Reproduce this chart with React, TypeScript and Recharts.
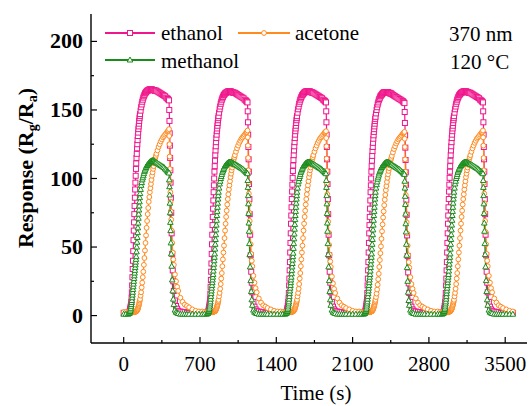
import React from 'react';
import { LineChart, Line, XAxis, YAxis } from 'recharts';

const cycleStarts = [0, 720, 1440, 2160, 2880];
const relTime = [0,20,40,50,
  55,57.5,60,62.5,65,67.5,70,72.5,75,77.5,
  80,82.5,85,87.5,90,92.5,95,97.5,100,102.5,
  105,107.5,110,112.5,115,117.5,120,122.5,125,127.5,
  130,132.5,135,137.5,140,142.5,145,147.5,150,
  155,160,165,170,175,180,185,190,195,200,
  205,210,215,220,225,230,235,240,245,250,
  255,260,265,270,275,280,285,290,295,300,
  310,320,330,340,350,360,370,380,390,400,
  405,410,416,418,420,422,424,426,428,430,
  433,436,440,445,450,455,460,470,480,490,
  500,520,540,560,580,600,630,660,690];

const ethanolC1 = [2,2,2,2,
  3,4,5,6,7,8.5,10,13,17,22,
  28,34,40,47,55,62,68,74,80,86,
  92,97,102,107,111,115,118,122,125,128,
  131,133.5,136,138,140,142,144,145.5,147,
  149.5,152,154,156,157.5,159,160,161,162,162.5,
  163,163.5,164,164,164.5,164.5,165,165,165,165,
  165,165,164.5,164.5,164.5,164.5,164,164,164,164,
  163.5,163,162.5,162,161.5,161,160.5,160,159,158.5,
  158,157.5,157,150,142,133,124,115,106,97,
  86,75,60,45,33,25,18,11,7,5,
  3.5,3,2.5,2.5,2,2,2,2,2];
const ethanolC2 = [2,2,2,2,
  2.5,3.5,4.5,5.5,6.5,8,9.5,12,16,21,
  26,32,38,45,52,59,66,72,78,84,
  90,95,100,105,109,113,117,120.5,123.5,126.5,
  129.5,132,134.5,136.5,138.5,140.5,142.5,144,145.5,
  148,150.5,152.5,154.5,156,157.5,158.5,159.5,160.5,161,
  161.5,162,162.5,162.5,163,163,163.5,163.5,163.5,163.5,
  163.5,163.5,163.5,163,163,163,162.5,162.5,162.5,162.5,
  162,161.5,161,160.5,160,159.5,159,158.5,157.5,157,
  156.5,156,155.5,149,141,132,123,114,105,96,
  85,74,59,44,32,24,17,10,6.5,4.5,
  3.5,3,2.5,2.5,2,2,2,2,2];
const ethanolC3 = [2,2,2,2,
  2.5,3.5,4.5,5.5,7,8.5,10,12.5,16.5,22,
  27,33,39,46,53,60,67,73,79,85,
  90.5,95.5,100.5,105.5,109.5,113.5,117,120.5,123.5,126.5,
  129.5,132,134.5,136.5,138.5,140.5,142.5,144,145.5,
  148,150.5,152.5,154.5,156,157.5,158.5,159.5,160.5,161,
  161.5,162,162.5,163,163,163.5,163.5,163.5,163.5,163.5,
  163.5,163.5,163.5,163.5,163,163,163,162.5,162.5,162.5,
  162,161.5,161,160.5,160,159.5,159,158.5,157.5,157,
  156.5,156,155.5,149,141,132,123,114,105,96,
  85,74,59,44,32,24,17,10,6.5,4.5,
  3.5,3,2.5,2.5,2,2,2,2,2];
const ethanolC4 = [2,2,2,2,
  2.5,3.5,4.5,5.5,7,8.5,10,12.5,16.5,22,
  27,33,39,46,53,60,66,72,78,84,
  90,95,100,105,109,113,116.5,120,123,126,
  129,131.5,134,136,138,140,142,143.5,145,
  147.5,150,152,154,155.5,157,158,159,160,160.5,
  161,161.5,162,162.5,162.5,163,163,163,163,163,
  163,163,163,162.5,162.5,162.5,162,162,162,161.5,
  161,160.5,160,159.5,159,158.5,158,157.5,157,156.5,
  156,155.5,155,148.5,140.5,131.5,122.5,113.5,104.5,95.5,
  84.5,73.5,58.5,43.5,31.5,23.5,16.5,10,6.5,4.5,
  3.5,3,2.5,2.5,2,2,2,2,2];
const ethanolC5 = [2,2,2,2,
  2.5,3.5,4.5,5.5,7,8.5,10,12.5,16.5,22,
  27,33,39,46,53,60,67,73,79,85,
  90.5,95.5,100.5,105,109,113,117,120.5,123.5,126.5,
  129.5,132,134.5,136.5,138.5,140.5,142.5,144,145.5,
  148,150.5,152.5,154.5,156,157.5,158.5,159.5,160.5,161,
  161.5,162,162.5,162.5,163,163,163.5,163.5,163.5,163.5,
  163.5,163.5,163.5,163,163,163,162.5,162.5,162.5,162.5,
  162,161.5,161,160.5,160,159.5,159,158.5,157.5,157,
  156.5,156,155.5,149,141,132,123,114,105,96,
  85,74,59,44,32,24,17,10,6.5,4.5,
  3.5,3,2.5,2.5,2,2,2,2,2];

const acetoneC1 = [2.5,2.5,2.5,2.5,
  2.5,2.5,2.5,2.5,2.5,2.5,2.5,2.5,2.5,2.5,
  2.5,2.5,2.5,2.5,2.5,2.5,2.5,2.5,2.5,2.8,
  2.8,3,3,3,3,3.3,3.5,3.8,4,4.5,
  5,5.7,6.5,7.2,8,9,10,11,12,
  14.5,17,20.5,24,28,32,37,42,47.5,53,
  58.5,64,69,74,78.5,83,86.5,90,93,96,
  99,102,104.5,107,109,111,113,115,116.5,118,
  120.5,123,125,127,128.5,130,131,132,133,134,
  134.5,135,136,131,125,116,107,98,90,83,
  76,70,62,53,46,41,37,30,25,21,
  18,13,10,8,7,6,4.5,3.5,3];
const acetoneC2 = [3,2.5,2.5,2.5,
  2.5,2.5,2.5,2.5,2.5,2.5,2.5,2.5,2.5,2.5,
  2.5,2.5,2.5,2.5,2.5,2.5,2.5,2.5,2.5,2.8,
  2.8,3,3,3,3,3.3,3.5,3.8,4,4.5,
  5,5.6,6.3,7,7.7,8.5,9.5,10.5,11.5,
  14,16.5,19.5,23,27,31,36,41,46,51,
  56.5,62,67,72,76.5,81,85,88.5,92,95,
  98,101,103.5,106,108,110,112,114,115.5,117,
  119.5,122,124,126,127.5,129,130,131,132,133,
  133.5,134,135,130,124,115,106,97,89,82,
  75,69,61,52,45,40,36,29,24,20,
  17,12.5,9.5,7.5,6.5,5.5,4.5,3.5,3];
const acetoneC3 = [3,2.5,2.5,2.5,
  2.5,2.5,2.5,2.5,2.5,2.5,2.5,2.5,2.5,2.5,
  2.5,2.5,2.5,2.5,2.5,2.5,2.5,2.5,2.5,2.8,
  2.8,3,3,3,3,3.3,3.5,3.8,4,4.5,
  5,5.6,6.3,7,7.7,8.5,9.5,10.5,11.5,
  14,16.5,19.5,23,27,31,36,41,46,51,
  56.5,62,67,72,76.5,81,85,88.5,92,95,
  98,101,103.5,106,108,110,112,114,115.5,117,
  119.5,122,124,126,127.5,129,130,131,132,133,
  133.5,134,134.5,129.5,123.5,114.5,105.5,96.5,88.5,81.5,
  74.5,68.5,60.5,51.5,44.5,39.5,35.5,28.5,23.5,19.5,
  16.5,12.5,9.5,7.5,6.5,5.5,4.5,3.5,3];
const acetoneC4 = [3,2.5,2.5,2.5,
  2.5,2.5,2.5,2.5,2.5,2.5,2.5,2.5,2.5,2.5,
  2.5,2.5,2.5,2.5,2.5,2.5,2.5,2.5,2.5,2.8,
  2.8,3,3,3,3,3.3,3.5,3.8,4,4.5,
  5,5.6,6.3,7,7.7,8.5,9.5,10.5,11.5,
  13.5,16,19,22.5,26.5,30.5,35.5,40.5,45.5,50.5,
  56,61.5,66.5,71.5,76,80.5,84.5,88,91.5,94.5,
  97.5,100.5,103,105.5,107.5,109.5,111.5,113.5,115,116.5,
  119,121.5,123.5,125.5,127,128.5,129.5,130.5,131.5,132.5,
  133,133.5,134,129,123,114,105,96,88,81,
  74,68,60,51,44,39,35,28,23,19.5,
  16.5,12.5,9.5,7.5,6.5,5.5,4.5,3.5,3];
const acetoneC5 = [3,2.5,2.5,2.5,
  2.5,2.5,2.5,2.5,2.5,2.5,2.5,2.5,2.5,2.5,
  2.5,2.5,2.5,2.5,2.5,2.5,2.5,2.5,2.5,2.8,
  2.8,3,3,3,3,3.3,3.5,3.8,4,4.5,
  5,5.6,6.3,7,7.7,8.5,9.5,10.5,11.5,
  14,16.5,19.5,23,27,31,36,41,46,51,
  56.5,62,67,72,76.5,81,85,88.5,92,95,
  98,101,103.5,106,108,110,112,114,115.5,117,
  119.5,122,124,126,127.5,129,130,131,132,133,
  133.5,134,135,130,124,115,106,97,89,82,
  75,69,61,52,45,40,36,29,24,20,
  17,12.5,9.5,7.5,6.5,5.5,4.5,3.5,3];

const methanolC1 = [1,1,1,1.5,
  2,2.5,3,4,5,6.5,8,9.5,11,13,
  15,17,19,21,23,25,27,29,31,33,
  35,37,39,41,43,46.5,50,53.5,57,60.5,
  64,67.5,71,74,77,80,83,86,89,
  92,95,97,99,100.5,102,103.5,105,106,107,
  108,109,109.5,110,110.5,111,111.5,112,112.3,112.5,
  112.8,113,113,113,113,112.5,112.3,112,111.8,111.5,
  111,110.5,110,109.5,109,108.5,108,107,106.3,105.5,
  105,104.5,104,99,94,88,82,75,68,62,
  53,45,36,26,18,12,8,4,2.5,2,
  1.5,1,1,1,1,1,1,1,1];
const methanolC2 = [1,1,1,1.5,
  2,2.5,3,3.5,4.5,5.5,7,8.5,10,12,
  14,16,18,20,22,24,26,28,30,32.5,
  35,37.5,40,42.5,45,48.5,52,55.5,59,62.5,
  66,69.5,73,76,79,82,85,87.5,90,
  93,96,98,100,101.5,103,104.5,105.5,106.5,107.5,
  108.5,109,109.5,110,110.5,111,111.3,111.5,111.8,112,
  112,112,112,111.8,111.5,111.3,111,110.8,110.5,110.3,
  110,109.5,109,108.5,108,107.5,107,106.3,105.5,105,
  104.5,104,103.5,98.5,93.5,87.5,81.5,74.5,67.5,61.5,
  52.5,44.5,35.5,25.5,17.5,11.5,7.5,4,2.5,2,
  1.5,1,1,1,1,1,1,1,1];
const methanolC3 = [1,1,1,1.5,
  2,2.5,3,3.5,4.5,5.5,7,8.5,10,12,
  14,16,18,20,22,24,26,28,30.5,33,
  35.5,38,40.5,43,45.5,49,52.5,56,59.5,63,
  66.5,70,73,76,79,82,85,87.5,90,
  93,96,98,100,101.5,103,104.5,105.5,106.5,107.5,
  108.5,109,109.5,110,110.5,111,111.3,111.5,111.8,112,
  112,112,112,111.8,111.5,111.3,111,110.8,110.5,110.3,
  110,109.5,109,108.5,108,107.5,107,106.3,105.5,105,
  104.5,104,103.5,98.5,93.5,87.5,81.5,74.5,67.5,61.5,
  52.5,44.5,35.5,25.5,17.5,11.5,7.5,4,2.5,2,
  1.5,1,1,1,1,1,1,1,1];
const methanolC4 = [1,1,1,1.5,
  2,2.5,3,3.5,4.5,5.5,7,8.5,10,12,
  14,16,18,20,22,24,26,28,30,32.5,
  35,37.5,40,42.5,45,48.5,52,55.5,59,62.5,
  66,69.5,73,76,79,82,85,87.5,90,
  93,95.5,97.5,99.5,101,102.5,104,105,106,107,
  108,108.5,109,109.5,110,110.5,111,111.3,111.6,111.8,
  112,112,111.8,111.5,111.3,111,110.8,110.5,110.3,110,
  109.5,109,108.5,108,107.5,107,106.5,105.8,105,104.5,
  104,103.5,103,98,93,87,81,74,67,61,
  52,44,35,25,17,11,7.5,4,2.5,2,
  1.5,1,1,1,1,1,1,1,1];
const methanolC5 = [1,1,1,1.5,
  2,2.5,3,3.5,4.5,5.5,7,8.5,10,12,
  14,16,18,20,22,24,26,28,30,32.5,
  35,37.5,40,42.5,45,48.5,52,55.5,59,62.5,
  66,69.5,73,76,79,82,85,87.5,90,
  93,96,98,100,101.5,103,104.5,105.5,106.5,107.5,
  108.5,109,109.5,110,110.5,111,111.3,111.5,111.8,112,
  112,112,112,111.8,111.5,111.3,111,110.8,110.5,110.3,
  110,109.5,109,108.5,108,107.5,107,106.3,105.5,105,
  104.5,104,103.5,98.5,93.5,87.5,81.5,74.5,67.5,61.5,
  52.5,44.5,35.5,25.5,17.5,11.5,7.5,4,2.5,2,
  1.5,1,1,1,1,1,1,1,1];

const ethanolCycles = [ethanolC1, ethanolC2, ethanolC3, ethanolC4, ethanolC5];
const acetoneCycles = [acetoneC1, acetoneC2, acetoneC3, acetoneC4, acetoneC5];
const methanolCycles = [methanolC1, methanolC2, methanolC3, methanolC4, methanolC5];

const xTicks = [0, 350, 700, 1050, 1400, 1750, 2100, 2450, 2800, 3150, 3500];
const yTicks = [0, 25, 50, 75, 100, 125, 150, 175, 200];

const data: { t: number; ethanol: number; acetone: number; methanol: number }[] = [];
cycleStarts.forEach((start, k) => {
  relTime.forEach((rt, i) => {
    data.push({
      t: start + rt,
      ethanol: ethanolCycles[k][i],
      acetone: acetoneCycles[k][i],
      methanol: methanolCycles[k][i],
    });
  });
});

const PINK = '#F0168C';
const ORANGE = '#FF8A1E';
const GREEN = '#1A8C1A';
const FONT = '"Liberation Serif", "Times New Roman", Times, serif';
const TXT = { fontFamily: FONT };

const SquareDot = (props: any) => {
  const { cx, cy, index } = props;
  if (cx == null || cy == null) return <g key={`e${index}`} />;
  return <rect key={`e${index}`} x={cx - 2.5} y={cy - 2.5} width={5} height={5} fill="#fff" stroke={PINK} strokeWidth={1} />;
};
const CircleDot = (props: any) => {
  const { cx, cy, index } = props;
  if (cx == null || cy == null) return <g key={`a${index}`} />;
  return <circle key={`a${index}`} cx={cx} cy={cy} r={2.4} fill="#fff" stroke={ORANGE} strokeWidth={1} />;
};
const TriDot = (props: any) => {
  const { cx, cy, index } = props;
  if (cx == null || cy == null) return <g key={`m${index}`} />;
  return (
    <polygon
      key={`m${index}`}
      points={`${cx},${cy - 3} ${cx - 2.8},${cy + 2} ${cx + 2.8},${cy + 2}`}
      fill="#fff"
      stroke={GREEN}
      strokeWidth={1}
    />
  );
};

const XTick = (props: any) => {
  const { x, y, payload } = props;
  const major = payload.value % 700 === 0;
  return (
    <g>
      <line x1={x} x2={x} y1={y} y2={y - (major ? 6 : 3)} stroke="#000" strokeWidth={1.2} />
      {major && (
        <text x={x} y={y + 28} textAnchor="middle" fontSize={21} style={TXT} fill="#000">
          {payload.value}
        </text>
      )}
    </g>
  );
};

const YTick = (props: any) => {
  const { x, y, payload } = props;
  const major = payload.value % 50 === 0;
  return (
    <g>
      <line x1={x} x2={x + (major ? 6 : 3)} y1={y} y2={y} stroke="#000" strokeWidth={1.2} />
      {major && (
        <text x={x - 8} y={y + 7} textAnchor="end" fontSize={22} fontWeight="bold" style={TXT} fill="#000">
          {payload.value}
        </text>
      )}
    </g>
  );
};

export default function App() {
  return (
    <div style={{ position: 'absolute', left: 0, top: 0, width: 530, height: 406, background: '#fff', fontFamily: FONT }}>
      <LineChart width={530} height={406} data={data} margin={{ top: 14, right: 3, bottom: 0, left: 0 }}>
        <XAxis
          xAxisId="b"
          dataKey="t"
          type="number"
          domain={[-300, 3700]}
          ticks={xTicks}
          allowDataOverflow
          height={63}
          tickSize={0}
          tickMargin={0}
          tickLine={false}
          tick={<XTick />}
          axisLine={{ stroke: '#000', strokeWidth: 1.4 }}
          interval={0}
        />
        <XAxis
          xAxisId="top"
          orientation="top"
          type="number"
          domain={[-300, 3700]}
          height={0}
          tick={false}
          tickLine={false}
          axisLine={{ stroke: '#000', strokeWidth: 1.4 }}
        />
        <YAxis
          yAxisId="l"
          type="number"
          domain={[-20, 220]}
          ticks={yTicks}
          allowDataOverflow
          width={91}
          tickSize={0}
          tickMargin={0}
          tickLine={false}
          tick={<YTick />}
          axisLine={{ stroke: '#000', strokeWidth: 1.4 }}
          interval={0}
        />
        <YAxis
          yAxisId="r"
          orientation="right"
          type="number"
          domain={[-20, 220]}
          width={0}
          tick={false}
          tickLine={false}
          axisLine={{ stroke: '#000', strokeWidth: 1.4 }}
        />
        <Line xAxisId="b" yAxisId="l" type="linear" dataKey="ethanol" stroke={PINK} strokeWidth={1.2} dot={SquareDot} isAnimationActive={false} />
        <Line xAxisId="b" yAxisId="l" type="linear" dataKey="acetone" stroke={ORANGE} strokeWidth={1.2} dot={CircleDot} isAnimationActive={false} />
        <Line xAxisId="b" yAxisId="l" type="linear" dataKey="methanol" stroke={GREEN} strokeWidth={1.2} dot={TriDot} isAnimationActive={false} />
      </LineChart>
      <svg width={530} height={406} style={{ position: 'absolute', left: 0, top: 0, pointerEvents: 'none' }}>
        <g style={TXT} fill="#000">
          <line x1={105} x2={155} y1={33} y2={33} stroke={PINK} strokeWidth={1.8} />
          <rect x={127.5} y={30.5} width={5} height={5} fill="#fff" stroke={PINK} strokeWidth={1} />
          <text x={161} y={40} fontSize={21} style={TXT}>ethanol</text>
          <line x1={238} x2={290} y1={33} y2={33} stroke={ORANGE} strokeWidth={1.8} />
          <circle cx={264} cy={33} r={2.4} fill="#fff" stroke={ORANGE} strokeWidth={1} />
          <text x={295} y={40} fontSize={21} style={TXT}>acetone</text>
          <line x1={105} x2={155} y1={60} y2={60} stroke={GREEN} strokeWidth={1.8} />
          <polygon points="130,57 127.2,62 132.8,62" fill="#fff" stroke={GREEN} strokeWidth={1} />
          <text x={161} y={68} fontSize={21} style={TXT}>methanol</text>
          <text x={449} y={41} fontSize={21} style={TXT}>370 nm</text>
          <text x={450} y={69} fontSize={21} style={TXT}>120 °C</text>
          <text x={316} y={400} fontSize={21} textAnchor="middle" style={TXT}>Time (s)</text>
          <text transform="rotate(-90)" x={-168} y={33} fontSize={22} fontWeight="bold" textAnchor="middle" style={TXT}>
            Response (R<tspan fontSize={14} dy={4}>g</tspan><tspan dy={-4}>/R</tspan><tspan fontSize={14} dy={4}>a</tspan><tspan dy={-4}>)</tspan>
          </text>
        </g>
      </svg>
    </div>
  );
}
